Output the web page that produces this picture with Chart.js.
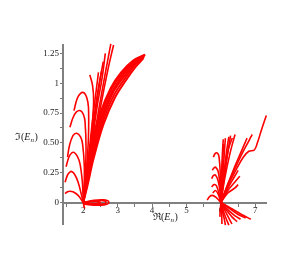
<!DOCTYPE html>
<html><head><meta charset="utf-8">
<script src="https://cdn.jsdelivr.net/npm/chart.js@4/dist/chart.umd.min.js"></script>
<style>html,body{margin:0;padding:0;background:#fff}</style>
</head><body>
<canvas id="c" width="289" height="269"></canvas>
<script>
// ---- tick values ----
const xTicks = [1.5, 2, 2.5, 3, 3.5, 4, 4.5, 5, 5.5, 6, 6.5, 7];
const yTicks = [0, 0.125, 0.25, 0.375, 0.5, 0.625, 0.75, 0.875, 1, 1.125, 1.25];

// ---- curves near Re = 2 ----
const leftArches = [
  [[1.73,0.77],[1.82,0.87],[1.92,0.915],[2.02,0.92],[2.10,0.88],[2.15,0.80],[2.15,0.55],[2.10,0.30],[2.03,0.08],[2.0,0]],
  [[1.61,0.63],[1.70,0.71],[1.80,0.76],[1.92,0.77],[2.00,0.74],[2.05,0.68],[2.08,0.45],[2.05,0.2],[2.0,0]],
  [[1.54,0.38],[1.60,0.48],[1.70,0.56],[1.81,0.58],[1.92,0.55],[1.98,0.49],[2.03,0.3],[2.02,0.1],[2.0,0]],
  [[1.50,0.30],[1.58,0.38],[1.66,0.415],[1.73,0.42],[1.82,0.39],[1.90,0.33],[1.97,0.18],[2.0,0]],
  [[1.47,0.17],[1.54,0.23],[1.61,0.255],[1.66,0.26],[1.75,0.235],[1.85,0.17],[1.95,0.06],[2.0,0]],
  [[1.47,0.075],[1.54,0.09],[1.61,0.095],[1.70,0.09],[1.85,0.06],[2.0,0]]
];
const leftRays = [
  [[2.0,0],[2.2,0.35],[2.45,0.78],[2.65,1.1],[2.80,1.33]],
  [[2.0,0],[2.22,0.35],[2.5,0.8],[2.72,1.12],[2.88,1.32]],
  [[2.0,0],[2.18,0.35],[2.40,0.80],[2.55,1.05],[2.64,1.25]],
  [[2.0,0],[2.17,0.35],[2.36,0.78],[2.50,1.05],[2.58,1.18]],
  [[2.0,0],[2.15,0.35],[2.33,0.75],[2.45,0.98],[2.53,1.10]],
  [[2.0,0],[2.14,0.35],[2.28,0.72],[2.38,0.95],[2.44,1.09]],
  [[2.19,1.07],[2.27,0.98],[2.30,0.85],[2.25,0.60],[2.15,0.3],[2.0,0]],
  [[2.24,0.45],[2.23,0.37],[2.15,0.2],[2.0,0]]
];
const leftBand = [
  [[2.0,0],[2.06,0.2],[2.2,0.45],[2.48,0.74],[2.8,0.96],[3.1,1.09],[3.45,1.19],[3.80,1.24]],
  [[2.0,0],[2.07,0.19],[2.22,0.44],[2.50,0.73],[2.82,0.95],[3.13,1.08],[3.47,1.185],[3.79,1.237]],
  [[2.0,0],[2.08,0.18],[2.24,0.43],[2.52,0.71],[2.84,0.93],[3.16,1.07],[3.48,1.175],[3.78,1.232]],
  [[2.0,0],[2.09,0.17],[2.26,0.41],[2.54,0.69],[2.86,0.92],[3.18,1.055],[3.50,1.165],[3.77,1.226]],
  [[2.0,0],[2.10,0.16],[2.28,0.39],[2.56,0.67],[2.89,0.90],[3.21,1.04],[3.51,1.155],[3.76,1.22]],
  [[2.0,0],[2.12,0.14],[2.30,0.37],[2.58,0.65],[2.92,0.88],[3.24,1.025],[3.53,1.14],[3.75,1.21]]
];
const leftLoops = [
  [[2.0,0],[2.3,0.018],[2.6,0.022],[2.73,0.012],[2.74,-0.006],[2.6,-0.02],[2.3,-0.022],[2.0,-0.012]],
  [[2.0,0],[2.3,0.013],[2.55,0.016],[2.66,0.007],[2.65,-0.009],[2.4,-0.016],[2.0,-0.01]],
  [[2.0,0],[2.25,0.008],[2.45,0.009],[2.5,0.0],[2.4,-0.009],[2.0,-0.007]],
  [[2.0,0],[2.02,-0.03],[2.04,-0.05]]
];

// ---- curves near Re = 6 ----
const rightRays = [
  [[6.0,0],[6.03,0.2],[6.06,0.4],[6.08,0.49]],
  [[6.0,0],[6.02,0.25],[6.05,0.45],[6.07,0.53]],
  [[6.0,0],[6.05,0.2],[6.1,0.42],[6.13,0.54]],
  [[6.0,0],[6.07,0.2],[6.16,0.42],[6.23,0.55]],
  [[6.0,0],[6.09,0.2],[6.2,0.42],[6.28,0.56]],
  [[6.0,0],[6.08,0.2],[6.22,0.45],[6.33,0.54]],
  [[6.0,0],[6.11,0.2],[6.27,0.42],[6.41,0.57]],
  [[6.0,0],[6.2,0.14],[6.45,0.28],[6.65,0.38],[6.81,0.43],[6.97,0.44],[7.06,0.50],[7.18,0.61],[7.32,0.73]],
  [[6.0,0],[6.2,0.15],[6.45,0.31],[6.65,0.43],[6.80,0.51],[6.87,0.55],[6.91,0.57]],
  [[6.0,0],[6.18,0.14],[6.40,0.30],[6.58,0.42],[6.70,0.50],[6.76,0.54]],
  [[6.0,0],[6.2,0.1],[6.4,0.17],[6.55,0.22]],
  [[6.0,0],[6.2,0.12],[6.4,0.22],[6.5,0.27]],
  [[6.0,0],[6.2,0.08],[6.4,0.12],[6.5,0.15]]
];
const rightCurls = [
  [[5.78,0.38],[5.83,0.41],[5.89,0.415],[5.94,0.39],[5.98,0.25],[6.0,0]],
  [[5.75,0.27],[5.80,0.29],[5.85,0.295],[5.92,0.26],[5.97,0.15],[6.0,0]],
  [[5.73,0.20],[5.78,0.225],[5.84,0.23],[5.92,0.18],[5.98,0.08],[6.0,0]],
  [[5.73,0.13],[5.80,0.15],[5.87,0.14],[5.95,0.07],[6.0,0]],
  [[5.76,0.08],[5.84,0.10],[5.92,0.07],[6.0,0]],
  [[5.60,0.02],[5.67,0.05],[5.75,0.06],[5.85,0.045],[5.94,0.02],[6.0,0]]
];
const rightFan = [
  [[6.0,0],[6.3,-0.05],[6.6,-0.10],[6.87,-0.14]],
  [[6.0,0],[6.25,-0.05],[6.5,-0.10],[6.72,-0.13]],
  [[6.0,0],[6.2,-0.06],[6.4,-0.11],[6.57,-0.14]],
  [[6.0,0],[6.15,-0.06],[6.32,-0.12],[6.47,-0.16]],
  [[6.0,0],[6.12,-0.07],[6.23,-0.13],[6.32,-0.18]],
  [[6.0,0],[6.08,-0.08],[6.16,-0.14],[6.23,-0.19]],
  [[6.0,0],[6.05,-0.08],[6.10,-0.14],[6.13,-0.19]],
  [[6.0,0],[6.02,-0.08],[6.03,-0.18]],
  [[6.0,0],[5.98,-0.06],[5.97,-0.12]]
];

const allCurves = [].concat(leftArches, leftRays, leftBand, leftLoops, rightRays, rightCurls, rightFan);
const datasets = allCurves.map(c => ({
  data: c.map(p => ({x: p[0], y: p[1]})),
  showLine: true, borderColor: '#ff0000',
  borderWidth: leftBand.includes(c) ? 2 : 1.6,
  pointRadius: 0, tension: leftLoops.includes(c) ? 0.15 : 0.35, fill: false, clip: false
}));

function drawMath(c, sym, x, y) {
  c.save();
  c.fillStyle = '#222';
  c.textBaseline = 'alphabetic';
  c.textAlign = 'left';
  c.font = '10px "Liberation Serif", "DejaVu Serif", serif';
  let t = sym + '(';
  c.fillText(t, x, y); x += c.measureText(t).width;
  c.font = 'italic 10px "Liberation Serif", serif';
  c.fillText('E', x, y); x += c.measureText('E').width;
  c.font = 'italic 7px "Liberation Serif", serif';
  c.fillText('n', x, y + 2); x += c.measureText('n').width + 0.5;
  c.font = '10px "Liberation Serif", serif';
  c.fillText(')', x, y);
  c.restore();
}
const titlePlugin = {
  id: 'axisTitles',
  afterDraw(chart) {
    drawMath(chart.ctx, '\u2111', 15, 140);
    drawMath(chart.ctx, '\u211C', 153, 220);
  }
};

const tickFont = {family: '"Liberation Serif", serif', size: 9};
new Chart(document.getElementById('c'), {
  type: 'scatter',
  data: {datasets},
  plugins: [titlePlugin],
  options: {
    responsive: false, animation: false,
    layout: {padding: {top: 45, right: 23, bottom: 45, left: 0}},
    plugins: {legend: {display: false}, tooltip: {enabled: false}},
    scales: {
      x: {
        type: 'linear', min: 1.41, max: 7.31, position: {y: 0},
        afterBuildTicks: s => { s.ticks = xTicks.map(v => ({value: v})); },
        afterFit: s => { s.height = 0; },
        ticks: {
          callback: v => Number.isInteger(v) ? String(v) : '',
          font: tickFont, color: '#222', padding: 0, maxRotation: 0, autoSkip: false
        },
        grid: {drawOnChartArea: false, drawTicks: true, tickLength: 3, color: '#777'},
        border: {color: '#808080', width: 2}
      },
      y: {
        type: 'linear', min: -0.18, max: 1.32, position: 'left',
        afterBuildTicks: s => { s.ticks = yTicks.map(v => ({value: v})); },
        afterFit: s => { s.width = 63; },
        ticks: {
          callback: v => (Math.abs(v * 4 - Math.round(v * 4)) < 1e-9) ? (v === 0 ? '0' : v === 1 ? '1' : v.toFixed(2)) : '',
          font: tickFont, color: '#222', padding: 1, autoSkip: false
        },
        grid: {drawOnChartArea: false, drawTicks: true, tickLength: 3, color: '#777'},
        border: {color: '#808080', width: 2}
      }
    }
  }
});
</script>
</body></html>
